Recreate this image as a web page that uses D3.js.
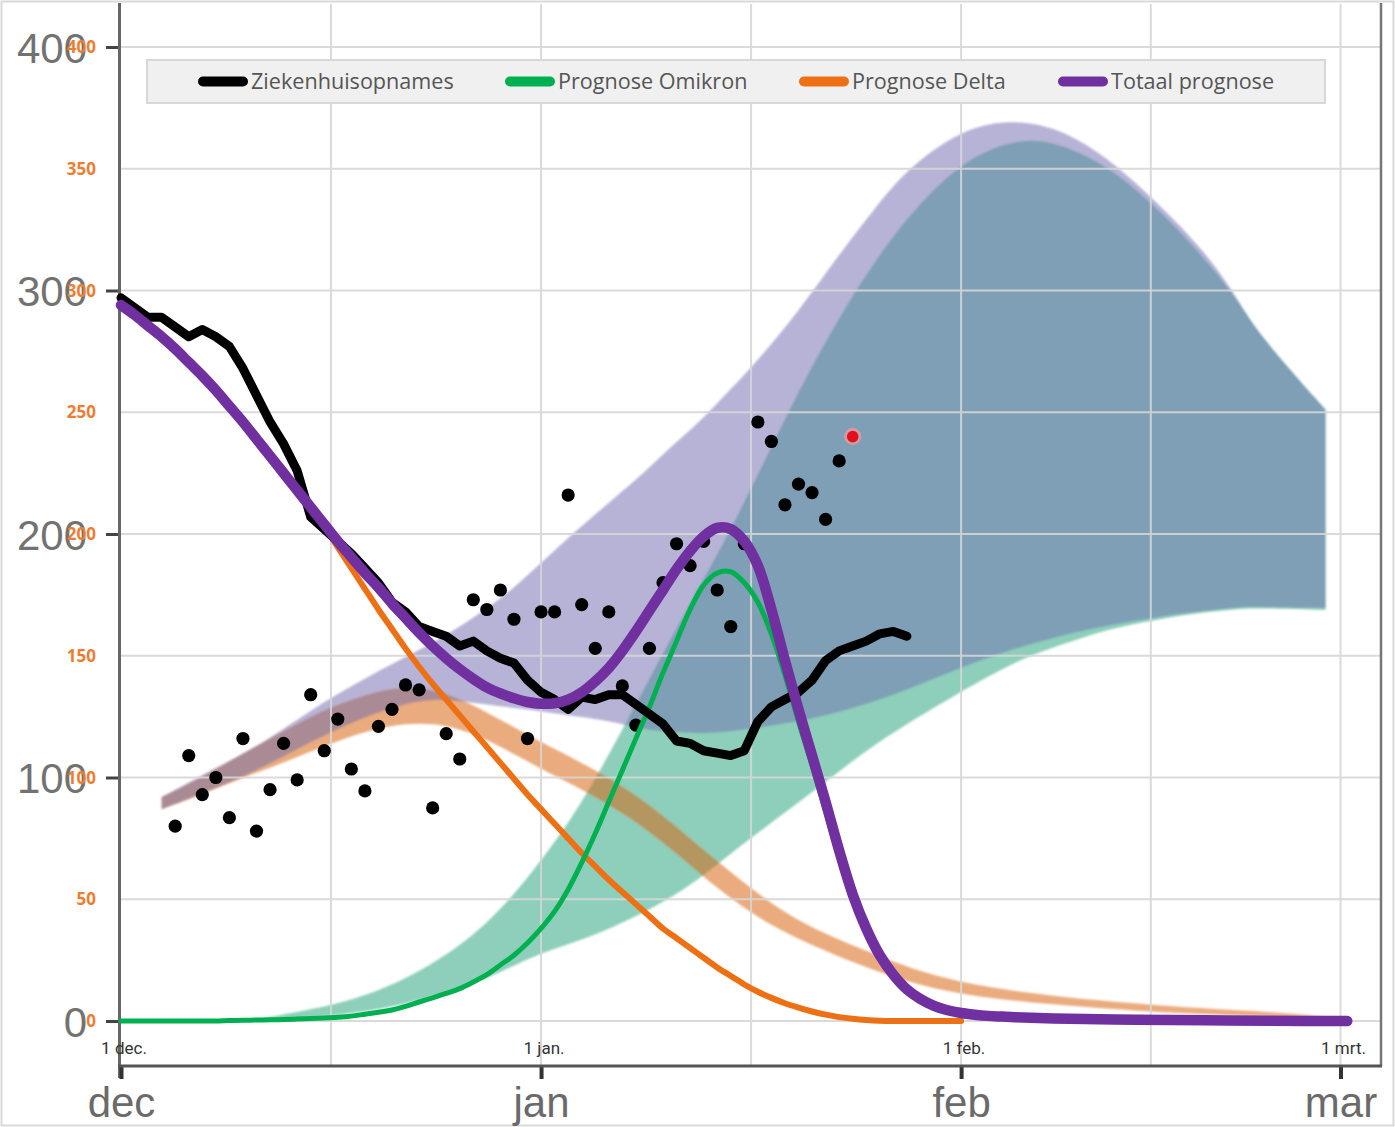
<!DOCTYPE html>
<html><head><meta charset="utf-8">
<script src="https://cdn.jsdelivr.net/npm/d3@7"></script>
<style>body{margin:0;background:#fff;} svg{display:block;}</style>
</head><body>
<svg id="c" width="1395" height="1127"></svg>
<script>
// ---------- DATA (day 0 = 1 dec.) ----------
const monthDays = [0, 31, 62, 90];
const monthLabels = ["dec", "jan", "feb", "mar"];
const dateLabels = ["1 dec.", "1 jan.", "1 feb.", "1 mrt."];
const gridDays = [15.5, 31, 46.5, 62, 76, 90];
const majorTicks = [0, 100, 200, 300, 400];
const minorTicks = [0, 50, 100, 150, 200, 250, 300, 350, 400];

const seriesNames = ["Ziekenhuisopnames", "Prognose Omikron", "Prognose Delta", "Totaal prognose"];
const seriesColors = ["#000000", "#00b050", "#ee7014", "#7030a0"];

// daily hospital admissions, 7-day average line (from day 0)
const ziekenhuisopnames = [297,293,289,289,285,281,284,281,277,268,257,246,237,226,207,202,197,192,186,180,
  172,168,162,160,158,154,156,152,149,147,140,135,132,128,133,132,134,134,130,126,
  122,115,114,111,110,109,111,123,129,132,135,140,148,152,154,156,159,160,158];
// daily raw admissions (dots) from day 4
const dotStartDay = 4;
const dagcijfers = [80,109,93,100,83.5,116,78,95,114,99,134,111,124,103.5,94.5,121,128,138,136,87.5,
  118,107.6,173,169,177,165,116,168,168,216,171,153,168,137.6,121.5,153,180,196,187,197,
  177,162,196,246,238,212,220.5,217,206,230];
const laatsteDag = [54, 240];

// prognoses (daily from day 0)
const prognoseOmikron = [0,0,0,0,0,0,0,0,0.2,0.3,0.4,0.5,0.6,0.8,1,1.2,1.5,2,2.8,3.6,
  4.5,6,7.8,9.5,11.3,13.3,16,19,23,27,32,38,45,54,65,77,90,103,116,129,
  143,156,169,179,184,184.5,180,172,159,142,123,105,86,67,50,37,26.5,18.5,12.5,8.6,6,4.2,3.1];
const prognoseDelta = [294,290,285.5,281,276,270.5,265,259,252.5,246,239,232,225,218,211,203,194.5,186,177.5,169,
  161,153,145.5,138.5,132,125.5,119,112.5,106,99.5,93,87,81,75,69,63.5,58,53,48,43,
  38,34,30,26,22,18.5,15,12,9.5,7.3,5.5,3.9,2.6,1.6,0.9,0.4,0.1,0,0,0,0,0,0];
const totaalPrognose = [294,290,285.5,281,276,270.5,265,259,252.5,246,239,232,225,218,211,204,197,190.5,184,178,
  171.5,165.5,159.5,154,149,144.5,140.5,137,134.5,132.5,131,130.3,130.5,132,135,139.5,145,152,160,168.5,
  177,185.5,193,199,202.5,202,197,187,169,148,128,109,90,70,52,38,27,19,13,9,
  6.2,4.4,3.3,2.6,2.1,1.8,1.5];
const totaalStaart = [[70,0.9],[75,0.5],[80,0.3],[85,0.1],[90.5,0]];

// uncertainty bands [day, low, high]
const bandTotaal = [[3,87,92],[8,98,107],[10.5,104,114],[15.4,119,133],[20.8,131,149],[24,132.6,158],[28,129,173],
  [30.2,128,184],[32.9,125.5,198],[35.4,124,210],[38.8,119.5,226],[40.3,119,234.5],[42.7,118,246],[44.2,118.5,255],
  [46.5,120,268],[50.1,123,292],[53.1,127,315.6],[55.5,131,332.8],[58,136,350],[61.9,145,365.7],[65.4,152,370.4],
  [69.1,158,367.3],[72.8,162.5,354.8],[76.5,166,336],[80.1,168.5,315.6],[82.6,170,295],[83.8,170,283],[88.9,169.6,251]];
const bandOmikron = [[10,0,0.5],[11.7,0.4,2.5],[16.7,2.5,7.4],[21.5,7.4,18],[26.5,15.6,36],[30.4,27,61],[33.9,33,88],
  [37,40,119.5],[41.8,54,170],[45.2,70,203],[49.6,88,255],[53.1,103,290],[55.5,113,311],[58,122,330],[61.9,135,353],
  [66.1,148,362.6],[69.1,154,361],[72.8,161,351.5],[76.5,165,334],[80.1,168,312.5],[82.6,169.3,295],[83.8,169.6,283],[88.9,168.8,251]];
const bandDelta = [[3,87,92],[6,93,100],[9,100,110],[12,106,119],[15,113,128],[18,119,134],[21,122.5,138],[24,122,135],
  [27,116,127],[30.8,104,115],[33,98,109],[36,89,100],[39,78,89],[42,64,75],[45,50,61],[48,39,48],[51,31,38],
  [54.5,23,30],[58,16,22],[62,10.7,15.6],[68,7,10.5],[76,3.7,6.6],[82,2.4,4.5],[87,1.5,3],[90,0.3,1]];

// ---------- CHART ----------
const svg = d3.select("#c");
const x = d3.scaleLinear().domain([0, 90]).range([121, 1340.5]);
const y = d3.scaleLinear().domain([0, 400]).range([1021, 47]);
const plotRight = 1381, axisY = 1066;

// outer frame
svg.append("rect").attr("x",1.5).attr("y",1.5).attr("width",1392).attr("height",1124)
  .attr("fill","#fff").attr("stroke","#d9d9d9").attr("stroke-width",2);

const defs = svg.append("defs");
defs.append("filter").attr("id","soft").append("feGaussianBlur").attr("stdDeviation",0.8);

const area = d3.area().x(d=>x(d[0])).y0(d=>y(d[1])).y1(d=>y(d[2])).curve(d3.curveBasis);
[["clipT",bandTotaal],["clipO",bandOmikron]].forEach(([id,b])=>{
  defs.append("clipPath").attr("id",id).append("path").attr("d",area(b));
});

const bands = svg.append("g").attr("filter","url(#soft)");
bands.append("path").attr("d",area(bandTotaal)).attr("fill","#b7b3d6");
bands.append("path").attr("d",area(bandOmikron)).attr("fill","#8dcfba");
bands.append("path").attr("d",area(bandDelta)).attr("fill","#eaac7e");
bands.append("path").attr("d",area(bandOmikron)).attr("fill","#7f9fb6").attr("clip-path","url(#clipT)");
bands.append("path").attr("d",area(bandDelta)).attr("fill","#aa8b95").attr("clip-path","url(#clipT)");
bands.append("path").attr("d",area(bandDelta)).attr("fill","#b39661").attr("clip-path","url(#clipO)");

// gridlines (on top of bands)
const grid = svg.append("g").attr("stroke","#d6d6d6").attr("stroke-width",2).attr("opacity",0.9);
grid.selectAll("line.h").data(minorTicks).join("line").attr("class","h")
  .attr("x1",x(0)).attr("x2",plotRight).attr("y1",d=>y(d)).attr("y2",d=>y(d));
grid.selectAll("line.v").data(gridDays).join("line").attr("class","v")
  .attr("x1",d=>x(d)).attr("x2",d=>x(d)).attr("y1",4).attr("y2",axisY);

// axes frame lines
svg.append("line").attr("x1",119.5).attr("x2",119.5).attr("y1",3).attr("y2",axisY+12)
  .attr("stroke","#666").attr("stroke-width",3);
svg.append("line").attr("x1",plotRight).attr("x2",plotRight).attr("y1",3).attr("y2",axisY)
  .attr("stroke","#777").attr("stroke-width",2.5);

// y axis big labels
const yAxis = svg.append("g").attr("transform","translate(118,0)")
  .call(d3.axisLeft(y).tickValues(majorTicks).tickSize(12).tickPadding(19).tickFormat(d3.format("d")));
yAxis.select(".domain").remove();
yAxis.selectAll(".tick line").attr("stroke","#444").attr("stroke-width",3);
yAxis.selectAll(".tick text").attr("fill","#727272").attr("font-size",42)
  .attr("font-family","Liberation Sans, Arial, sans-serif").attr("dy","0.36em");

// orange small labels
svg.append("g").selectAll("text").data(minorTicks).join("text")
  .attr("x",96).attr("y",d=>y(d)).attr("dy","0.36em").attr("text-anchor","end")
  .attr("fill","#ed7d31").attr("font-weight","bold").attr("font-size",17)
  .attr("font-family","Open Sans, Liberation Sans, sans-serif").text(d=>d);

// x axis
const xAxis = svg.append("g").attr("transform",`translate(0,${axisY})`)
  .call(d3.axisBottom(x).tickValues(monthDays).tickSize(13).tickPadding(8).tickFormat((d,i)=>monthLabels[i]));
xAxis.select(".domain").remove();
svg.append("line").attr("x1",118).attr("x2",plotRight+1).attr("y1",axisY).attr("y2",axisY)
  .attr("stroke","#555").attr("stroke-width",3);
xAxis.selectAll(".tick line").attr("stroke","#333").attr("stroke-width",4);
xAxis.selectAll(".tick text").attr("fill","#6a6a6a").attr("font-size",42)
  .attr("font-family","Liberation Sans, Arial, sans-serif");

// small date labels
svg.append("g").selectAll("text").data(monthDays).join("text")
  .attr("x",d=>x(d)+3).attr("y",1054).attr("text-anchor","middle")
  .attr("fill","#333").attr("font-size",17).attr("font-family","Roboto, Liberation Sans, sans-serif")
  .text((d,i)=>dateLabels[i]);

// dots
svg.append("g").selectAll("circle").data(dagcijfers).join("circle")
  .attr("cx",(d,i)=>x(dotStartDay+i)).attr("cy",d=>y(d)).attr("r",6.6).attr("fill","#000");
svg.append("circle").attr("cx",x(laatsteDag[0])).attr("cy",y(laatsteDag[1])).attr("r",8.5)
  .attr("fill","#e49a9e").attr("opacity",0.85);
svg.append("circle").attr("cx",x(laatsteDag[0])).attr("cy",y(laatsteDag[1])).attr("r",5.8).attr("fill","#e0101c");

// lines
const smooth = d3.line().x(d=>x(d[0])).y(d=>y(d[1])).curve(d3.curveCatmullRom.alpha(0.5));
const toPts = arr => arr.map((v,i)=>[i,v]);
const lines = svg.append("g").attr("fill","none").attr("stroke-linecap","round").attr("stroke-linejoin","round");
lines.append("path").attr("d",smooth(toPts(prognoseDelta))).attr("stroke",seriesColors[2]).attr("stroke-width",6);
lines.append("path").attr("d",smooth(toPts(prognoseOmikron))).attr("stroke",seriesColors[1]).attr("stroke-width",5);
lines.append("path").attr("d",d3.line().x(d=>x(d[0])).y(d=>y(d[1]))(toPts(ziekenhuisopnames)))
  .attr("stroke",seriesColors[0]).attr("stroke-width",9);
lines.append("path").attr("d",smooth(toPts(totaalPrognose).concat(totaalStaart)))
  .attr("stroke",seriesColors[3]).attr("stroke-width",10.5);

// legend
const lg = svg.append("g");
lg.append("rect").attr("x",147).attr("y",60).attr("width",1178).attr("height",43)
  .attr("fill","#f0f0f0").attr("stroke","#d8d8d8").attr("stroke-width",2);
const legendX = [199, 506, 800, 1059];
const items = lg.selectAll("g.it").data(seriesNames).join("g").attr("class","it")
  .attr("transform",(d,i)=>`translate(${legendX[i]},81.5)`);
items.append("line").attr("x1",4).attr("x2",44).attr("y1",0).attr("y2",0)
  .attr("stroke",(d,i)=>seriesColors[i]).attr("stroke-width",10).attr("stroke-linecap","round");
items.append("text").attr("x",52).attr("y",0).attr("dy","0.35em").attr("fill","#555")
  .attr("font-size",21.6).attr("font-family","Open Sans, Liberation Sans, sans-serif").text(d=>d);
</script>
</body></html>
